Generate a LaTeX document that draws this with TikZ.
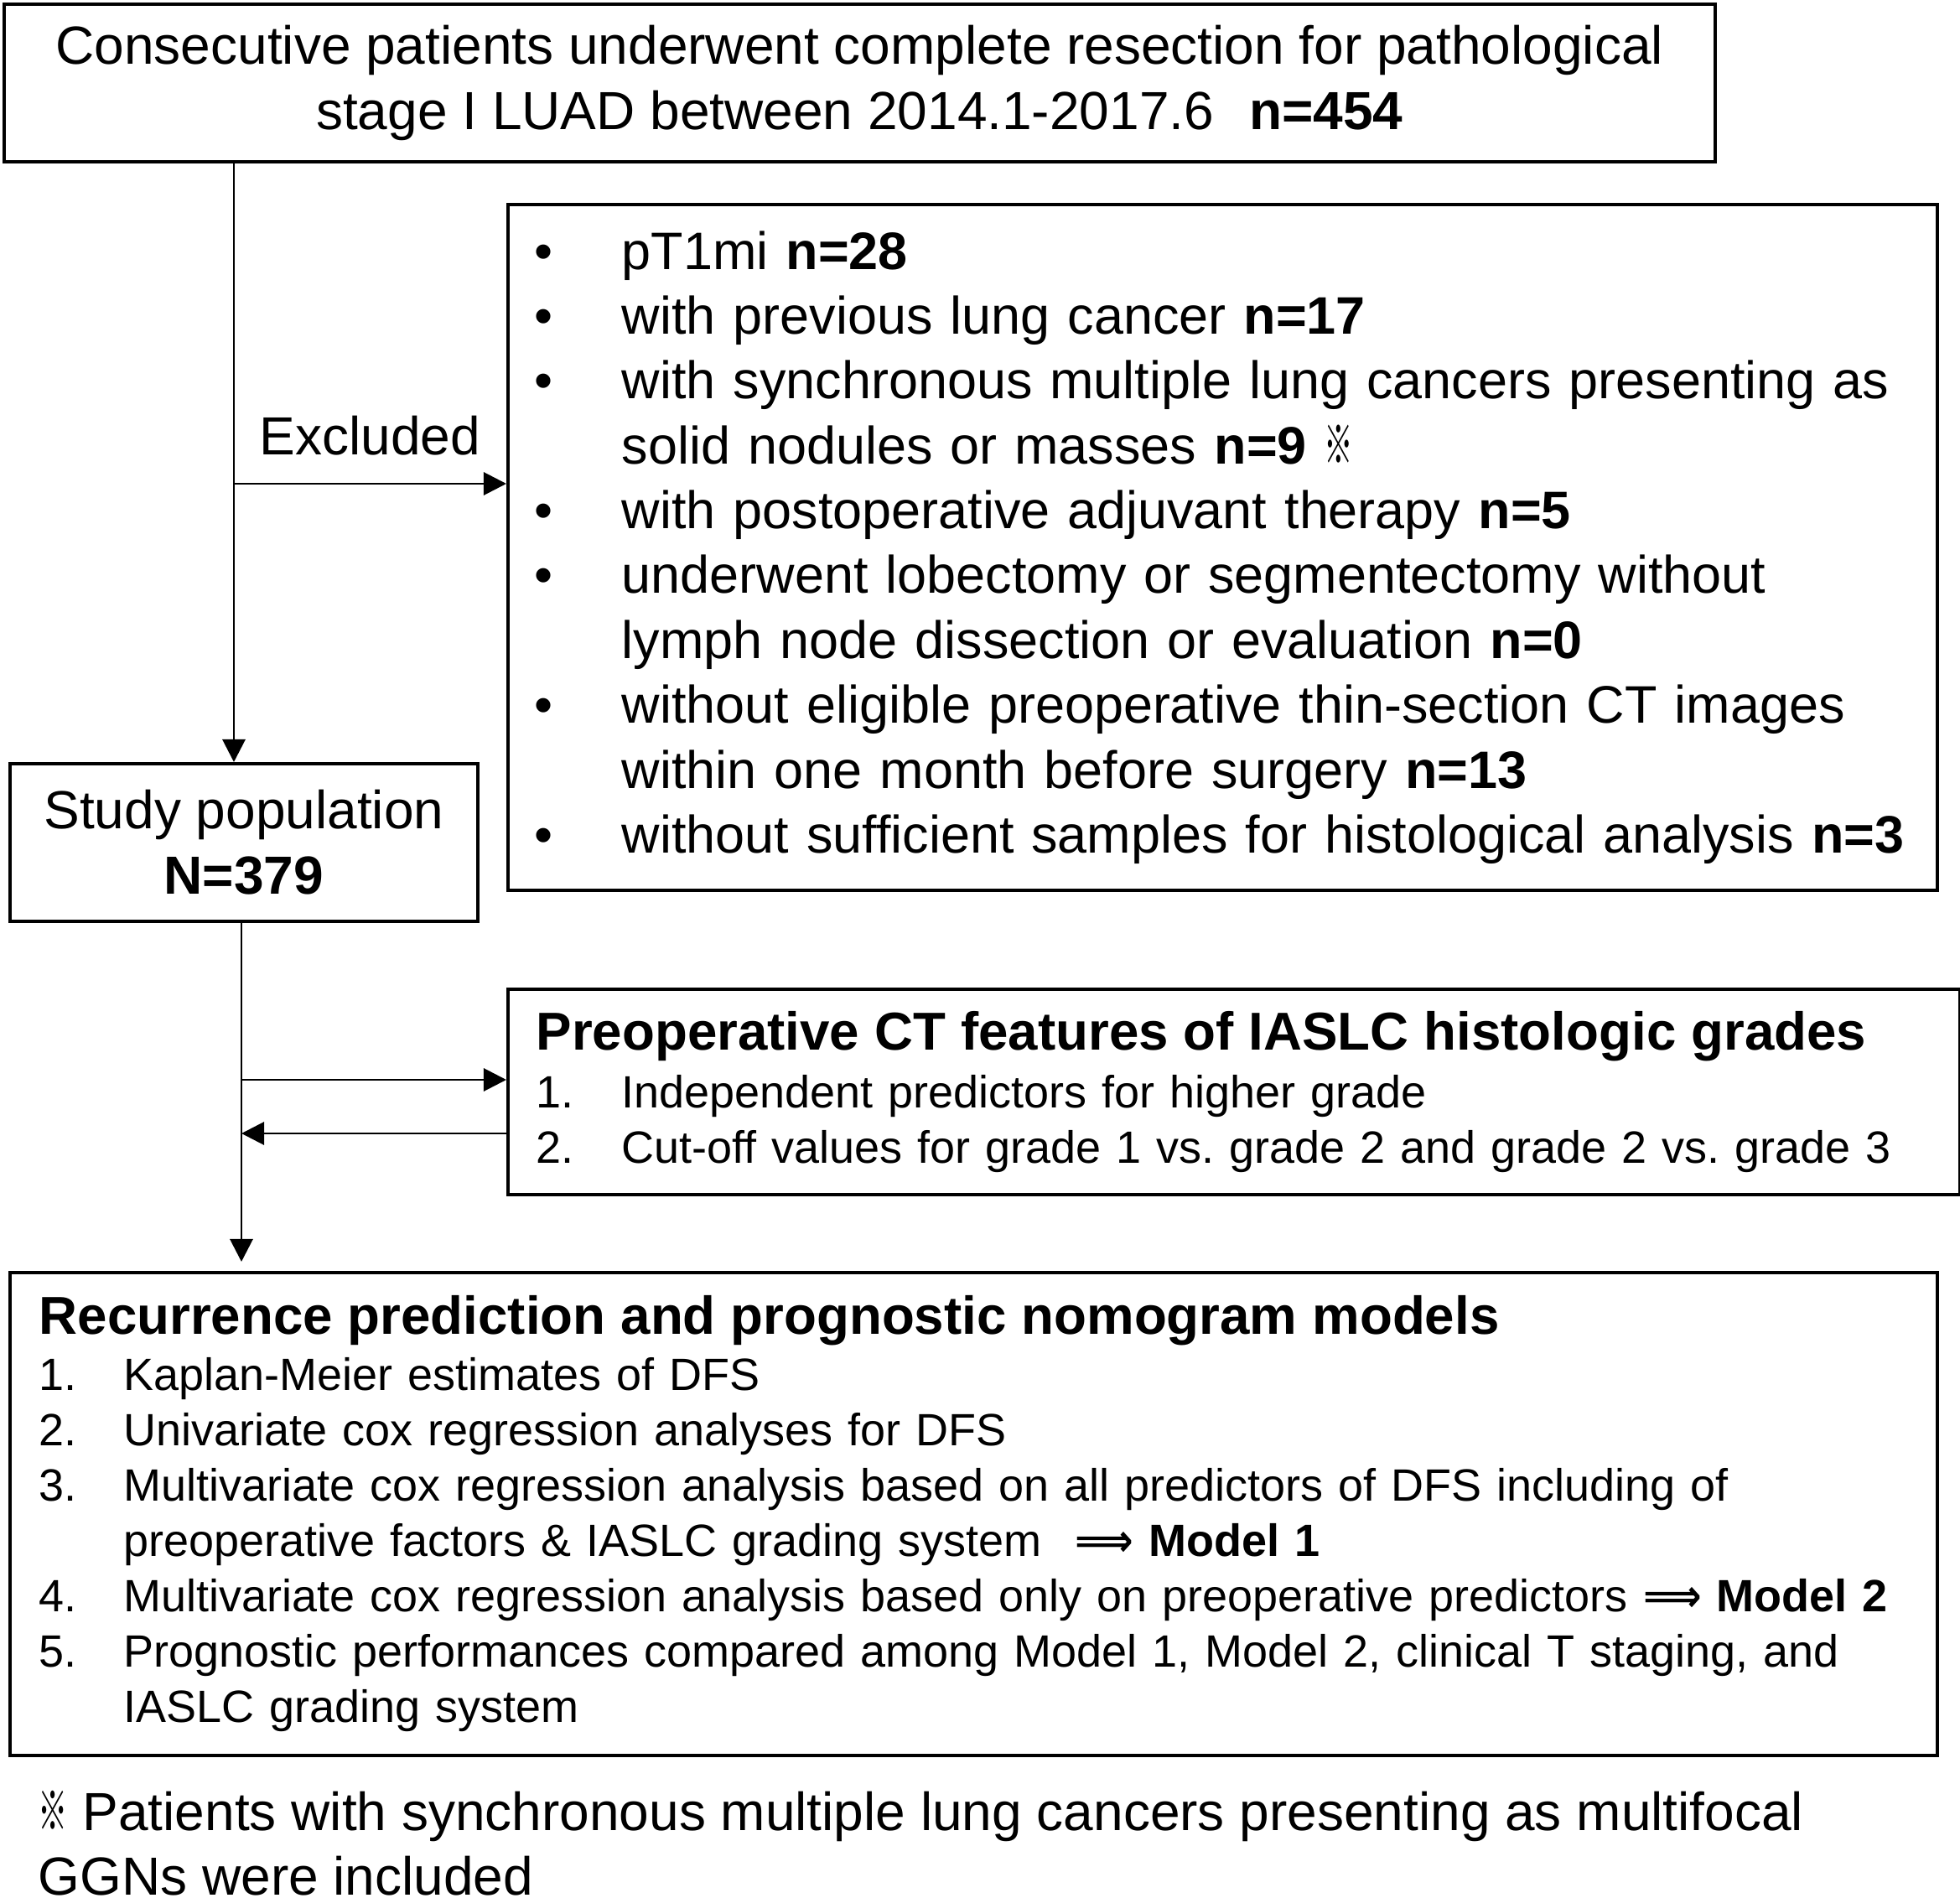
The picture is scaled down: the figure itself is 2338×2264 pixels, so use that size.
\documentclass[tikz,border=0pt]{standalone}
\usepackage{fontspec}
\usepackage{graphicx}
\setmainfont{Liberation Sans}
\newfontfamily\cjk{Noto Sans CJK SC}
\newfontfamily\symfont{DejaVu Sans}
\usepackage{tikz}
\usetikzlibrary{arrows.meta, positioning, calc}

\newcommand{\refmark}{{\cjk\scalebox{0.55}[1]{※}}}
\newcommand{\bitem}{\makebox[0.46cm]{\textbullet}\hspace*{0.70cm}}
\newcommand{\bcont}{\hspace*{1.16cm}}
\newcommand{\ctnum}[1]{\makebox[1.02cm][l]{#1}}
\newcommand{\resnum}[1]{\makebox[1.01cm][l]{#1}}
\newcommand{\thento}{{\symfont\bfseries\scalebox{0.9}[1]{⟹}}}
\frenchspacing

\begin{document}
\begin{tikzpicture}[
    x=0.01cm, y=-0.01cm,
    bigtext/.style={font=\fontsize{18.2}{22}\selectfont},
    listtext/.style={font=\fontsize{17.9}{22}\selectfont},
    smalltext/.style={font=\fontsize{15.35}{18.8}\selectfont},
    box/.style={draw, rectangle, line width=1pt, inner sep=0pt, anchor=north west},
    arrow/.style={line width=0.85pt, -{Triangle[length=0.27cm, width=0.27cm]}}
]
\useasboundingbox (0,0) rectangle (2338,2264);

% boxes
\node[box, bigtext, minimum width=20.40cm, minimum height=1.88cm, align=center] (top) at (3,3)
  {Consecutive patients underwent complete resection for pathological\\
   stage I LUAD between 2014.1-2017.6\hspace{0.42cm}\textbf{n=454}};
\node[box, listtext, minimum width=17.04cm, minimum height=8.18cm, text width=16.64cm, align=left] (excl) at (604,242)
  {\bitem pT1mi \textbf{n=28}\\
   \bitem with previous lung cancer \textbf{n=17}\\
   \bitem \mbox{with synchronous multiple lung cancers presenting as}\\
   \bcont solid nodules or masses \textbf{n=9} \refmark\\
   \bitem with postoperative adjuvant therapy \textbf{n=5}\\
   \bitem underwent lobectomy or segmentectomy without\\
   \bcont lymph node dissection or evaluation \textbf{n=0}\\
   \bitem \mbox{without eligible preoperative thin-section CT images}\\
   \bcont within one month before surgery \textbf{n=13}\\
   \bitem \mbox{without sufficient samples for histological analysis \textbf{n=3}}};
\node[box, bigtext, minimum width=5.58cm, minimum height=1.88cm, align=center] (study) at (10,909)
  {Study population\\ \textbf{N=379}};
\node[box, smalltext, minimum width=17.31cm, minimum height=2.45cm, text width=16.63cm, align=left] (ct) at (604,1178)
  {{\fontsize{18.1}{22}\selectfont\bfseries Preoperative CT features of IASLC histologic grades}\\[0.03cm]
   \ctnum{1.}Independent predictors for higher grade\\
   \ctnum{2.}\mbox{Cut-off values for grade 1 vs. grade 2 and grade 2 vs. grade 3}};
\node[box, smalltext, minimum width=22.98cm, minimum height=5.76cm, text width=22.28cm, align=left] (result) at (10,1516)
  {{\fontsize{18.1}{22}\selectfont\bfseries Recurrence prediction and prognostic nomogram models}\\
   \resnum{1.}Kaplan-Meier estimates of DFS\\
   \resnum{2.}Univariate cox regression analyses for DFS\\
   \resnum{3.}\mbox{Multivariate cox regression analysis based on all predictors of DFS including of}\\
   \hspace*{1.01cm}preoperative factors \& IASLC grading system\hspace{0.4cm}\thento{} \textbf{Model 1}\\
   \resnum{4.}\mbox{Multivariate cox regression analysis based only on preoperative predictors \thento{} \textbf{Model 2}}\\
   \resnum{5.}\mbox{Prognostic performances compared among Model 1, Model 2, clinical T staging, and}\\
   \hspace*{1.01cm}IASLC grading system};
\node[bigtext, anchor=north west, inner sep=0pt, align=left] (note) at (45,2135)
  {\refmark\ Patients with synchronous multiple lung cancers presenting as multifocal\\
   GGNs were included};

% connectors
\coordinate (trunk) at (279,0);
\coordinate (trunkb) at (288,0);
\coordinate (exc) at (279,577);
\coordinate (toct) at (288,1288);
\coordinate (fromct) at (288,1352);
\draw[arrow] (top.south -| trunk) -- (study.north -| trunk);
\draw[arrow] (exc) -- (exc -| excl.west)
  node[midway, above=0.32cm, inner sep=0pt, bigtext] (exlabel) {Excluded};
\draw[arrow] (study.south -| trunkb) -- ([yshift=0.11cm]result.north -| trunkb);
\draw[arrow] (toct) -- (toct -| ct.west);
\draw[arrow] (fromct -| ct.west) -- (fromct);
\end{tikzpicture}
\end{document}
